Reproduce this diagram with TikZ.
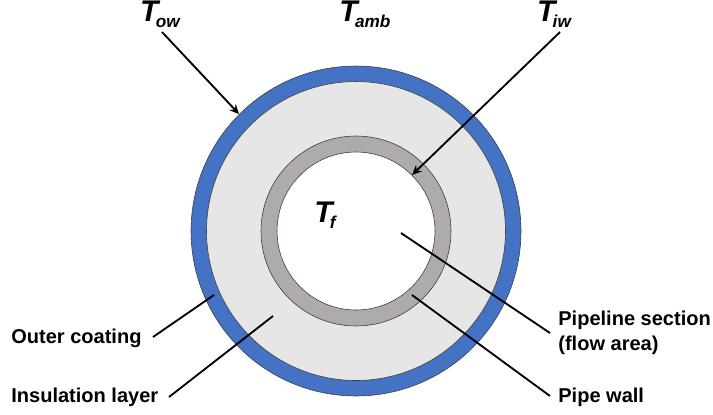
\documentclass[tikz,border=0pt]{standalone}
\usepackage{fontspec}
\setmainfont{Liberation Sans}
\usetikzlibrary{arrows.meta,positioning,calc}
\definecolor{coatblue}{RGB}{68,114,196}
\definecolor{insulgray}{RGB}{231,230,230}
\definecolor{wallgray}{RGB}{175,171,171}
\newcommand{\tempsym}[1]{T\kern-1.5pt{\fontsize{9.8}{12}\selectfont\raisebox{-3.5pt}{#1}}}

\begin{document}
\begin{tikzpicture}[
  x=0.02cm, y=-0.02cm,
  ring/.style={draw=black!75, circle, inner sep=0pt, line width=0.35pt},
  label/.style={align=left, anchor=west, font=\bfseries\fontsize{11.4}{14.2}\selectfont, inner sep=0pt},
  temp/.style={anchor=center, font=\bfseries\itshape\fontsize{17}{19}\selectfont, inner sep=0pt},
  arr/.style={-{Stealth[length=5.5pt,width=5pt]}, line width=1.05pt},
  lead/.style={line width=1.05pt}
]
\useasboundingbox (0,0) rectangle (713,414);

\node[ring, fill=coatblue, minimum size=6.6cm] (coat) at (356,231) {};
\node[ring, fill=insulgray, minimum size=5.98cm] (insul) at (356,231) {};
\node[ring, fill=wallgray, minimum size=3.8cm] (wall) at (356,231) {};
\node[ring, fill=white, minimum size=3.16cm] (flow) at (356,231) {};

\node[temp] (tow) at (160,14) {\tempsym{ow}};
\node[temp] (tamb) at (365,14) {\tempsym{amb}};
\node[temp] (tiw) at (554,14) {\tempsym{iw}};
\node[temp] (tf) at (325,215) {\tempsym{f}};

\node[label] (outer) at (11,338) {Outer coating};
\node[label] (insulation) at (11,397) {Insulation layer};
\node[label] (section) at (558,333) {Pipeline section\\(flow area)};
\node[label] (pipewall) at (558,397) {Pipe wall};

\coordinate (towstart) at (162,32);
\coordinate (tiwstart) at (560,32);
\coordinate (outerend) at (153,337);
\coordinate (insulend) at (169,397);
\coordinate (sectionend) at (550,333);
\coordinate (wallend) at (550,396);
\coordinate (outertip) at (214,295);
\coordinate (insultip) at (273,316);
\coordinate (sectiontip) at (401,233);
\coordinate (walltip) at (412,295);

\draw[arr] (towstart) -- (coat.135);
\draw[arr] (tiwstart) -- (flow.45);
\draw[lead] (outerend) -- (outertip);
\draw[lead] (insulend) -- (insultip);
\draw[lead] (sectionend) -- (sectiontip);
\draw[lead] (wallend) -- (walltip);
\end{tikzpicture}
\end{document}
